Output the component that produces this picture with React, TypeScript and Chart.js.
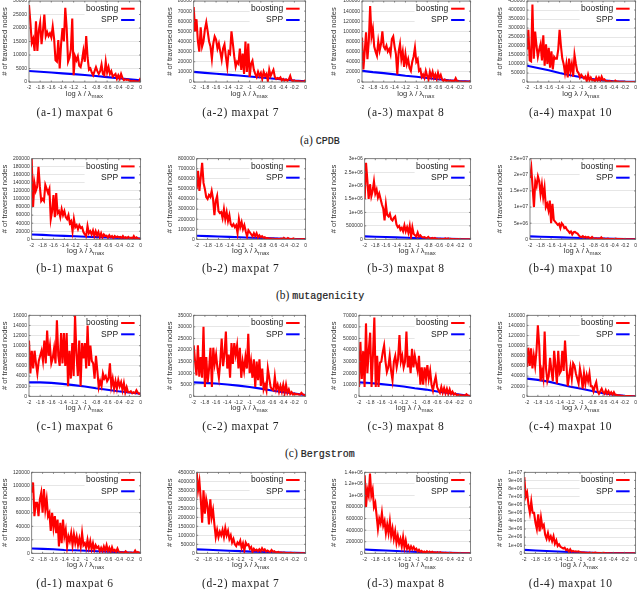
import React, { useEffect, useRef } from "react";
import { Chart, registerables } from "chart.js";

Chart.register(...registerables);

const xTickLabels = ["-2", "-1.8", "-1.6", "-1.4", "-1.2", "-1", "-0.8", "-0.6", "-0.4", "-0.2", "0"];
const sppX = [-2, -1.8, -1.6, -1.4, -1.2, -1, -0.8, -0.6, -0.4, -0.2, 0];

const boostA1 = [28500,22000,14500,16000,11500,22500,11500,19000,22000,14000,19000,25000,17000,18500,17000,18000,16500,20500,16000,8000,7500,15500,5000,14000,20000,15000,27500,20000,7500,9000,12000,23500,2500,9500,8000,9500,6000,5500,8000,11500,7500,17000,9000,4500,5000,3500,2500,4000,5500,4000,3000,4000,6500,3000,2500,7500,3500,5500,3000,4000,2000,2500,3000,1200,2500,1200,3000,1500,700,1000,800,900,500,400,300,400,300,300,200,200,1500];
const boostA2 = [74000,50000,62000,40000,30000,54000,35000,40000,52000,59000,50000,40000,35000,23000,38000,45000,42000,33000,38000,30000,22000,33000,37000,25000,15000,30000,28000,50000,38000,25000,15000,20000,18000,33000,12000,28000,8000,40000,10000,38000,5000,18000,21000,12000,8000,5000,10000,6000,9000,3000,10000,6000,8000,1000,12000,6000,9000,12000,5000,3000,4000,3000,4500,1500,3000,1500,2500,1200,2500,6000,1500,1000,1500,700,1000,700,600,500,400,400,2000];
const boostA3 = [88000,25000,60000,98000,45000,80000,150000,90000,105000,70000,60000,52000,80000,62000,75000,100000,70000,65000,72000,60000,65000,55000,85000,90000,70000,55000,15000,60000,75000,45000,60000,30000,55000,35000,45000,28000,22000,40000,50000,68000,40000,45000,22000,25000,10000,15000,8000,22000,12000,5000,20000,10000,20000,8000,15000,6000,18000,8000,14000,5000,2000,5000,2000,3000,1500,3000,2000,2500,1500,7500,1500,1500,1000,800,600,500,1000,500,300,500,2000];
const boostA4 = [180000,290000,120000,115000,430000,130000,280000,200000,140000,180000,210000,120000,260000,90000,210000,100000,190000,80000,170000,70000,140000,130000,130000,180000,290000,200000,130000,100000,50000,100000,25000,130000,60000,100000,30000,150000,100000,60000,50000,25000,40000,30000,20000,30000,5000,40000,10000,25000,10000,12000,3000,25000,8000,25000,8000,30000,12000,15000,5000,5000,2000,6000,2000,3000,1500,8000,2000,2000,1000,1000,800,700,500,400,300,300,200,200,150,100,500];

const boostB1 = [200000,80000,140000,120000,130000,180000,130000,95000,100000,95000,135000,125000,115000,125000,50000,70000,110000,55000,115000,65000,70000,55000,75000,60000,70000,55000,50000,60000,40000,45000,20000,50000,30000,35000,25000,35000,28000,30000,18000,12000,8000,33000,15000,20000,12000,22000,8000,20000,10000,18000,5000,15000,5000,12000,8000,9000,4000,10000,5000,8000,3000,8000,5000,7000,5000,6000,3000,8000,3000,5000,3000,6000,2500,4000,2000,8000,2000,5000,2000,1500,1000];
const boostB2 = [500000,680000,480000,620000,760000,560000,500000,420000,400000,440000,420000,480000,400000,240000,380000,430000,280000,260000,270000,210000,300000,200000,270000,180000,240000,150000,130000,150000,120000,140000,60000,200000,120000,170000,100000,140000,80000,30000,90000,70000,50000,30000,60000,30000,60000,20000,40000,20000,30000,15000,20000,10000,12000,8000,8000,6000,8000,5000,3000,5000,3000,2000,6000,2000,15000,5000,2000,12000,3000,2000,2000,8000,2000,1000,500,1000,500,2000,1500,1000,2000];
const boostB3 = [1500000,2850000,2200000,1500000,2050000,1600000,1800000,2150000,1700000,1850000,1550000,1700000,1500000,1300000,1150000,700000,1300000,900000,850000,950000,750000,700000,800000,850000,550000,450000,500000,350000,420000,300000,520000,300000,450000,250000,500000,100000,450000,200000,150000,100000,250000,100000,150000,90000,70000,80000,60000,50000,90000,40000,30000,50000,25000,50000,15000,20000,10000,15000,8000,10000,10000,30000,8000,30000,10000,15000,5000,10000,3000,8000,3000,5000,2000,3000,2000,1500,1000,1000,800,700,600];
const boostB4 = [19000000,22000000,16000000,10000000,18000000,16500000,19500000,18000000,14000000,17000000,13000000,16000000,10000000,11000000,9000000,12000000,5000000,11000000,6000000,5500000,5000000,4500000,4800000,3500000,5000000,4500000,3500000,3800000,3000000,2600000,2000000,2400000,1500000,2200000,2300000,2000000,1800000,1200000,800000,700000,1000000,500000,800000,500000,700000,500000,300000,700000,300000,200000,300000,150000,200000,100000,600000,100000,200000,100000,100000,200000,80000,100000,60000,80000,50000,200000,50000,60000,40000,50000,30000,40000,30000,30000,20000,20000,20000,10000,10000,10000,10000];

const boostC1 = [11000,4500,9000,5500,9000,6500,4500,7000,8000,9000,7000,11000,6500,13000,8000,10000,6500,7500,9500,6500,15000,8000,6000,12500,6500,12500,6000,12500,2000,9000,3500,10500,4000,16000,8500,4000,11000,2000,10500,7500,10500,5500,14000,6000,10000,7000,6500,3500,8000,5000,1800,3000,2000,4500,3500,4000,3000,3500,6500,2000,3500,1500,3000,1500,3200,2000,2800,1200,2600,800,1800,800,800,1000,600,800,600,1200,700,500,600];
const boostC2 = [22000,15000,9000,22000,8500,17000,8000,30000,4000,17000,6000,12000,21000,4000,21000,14000,18000,12000,8000,15000,25000,13000,18000,28000,12000,18000,8000,23000,14000,23000,18000,22000,12000,21000,8000,15000,11000,17000,12000,27000,10000,15000,8000,16000,4000,15000,7000,16000,4500,12000,3000,5000,2500,12000,8000,4000,3000,2500,8500,3000,5000,2000,4500,2000,5000,1500,5000,1500,3000,1000,1800,800,1200,800,1000,800,700,1500,800,600,500];
const boostC3 = [8000,47000,15000,39000,8000,63000,20000,40000,55000,8000,35000,68000,8000,35000,8000,29000,30000,38000,44000,30000,21000,25000,35000,22000,14000,30000,35000,25000,32000,53000,30000,35000,25000,30000,56000,25000,35000,20000,41000,25000,35000,28000,22000,35000,10000,25000,10000,25000,15000,27000,15000,22000,10000,5000,12000,17000,8000,5000,3000,8000,3000,7000,2500,6500,2000,6000,2000,4000,1500,2500,1000,1500,800,1000,700,800,500,1800,700,400,300];
const boostC4 = [58000,96000,60000,95000,55000,80000,60000,90000,140000,100000,30000,50000,35000,128000,55000,30000,40000,76000,50000,30000,90000,60000,25000,90000,45000,50000,90000,50000,110000,65000,20000,40000,58000,35000,65000,60000,45000,35000,25000,55000,40000,15000,45000,25000,42000,30000,45000,20000,20000,10000,20000,28000,10000,5000,10000,15000,8000,5000,12000,5000,10000,4000,8000,3000,8000,2500,3000,1500,2000,1000,800,600,500,400,400,300,300,200,200,100,100];

const boostD1 = [90000,105000,55000,75000,75000,55000,80000,90000,60000,95000,65000,80000,55000,60000,33000,60000,38000,55000,30000,50000,10000,45000,15000,50000,25000,35000,10000,25000,18000,30000,12000,28000,15000,25000,12000,22000,10000,30000,12000,15000,8000,20000,8000,18000,6000,15000,5000,12000,8000,10000,3000,8000,3000,10000,4000,12000,3000,8000,2000,9000,3000,5000,2000,7000,2000,1000,1500,1000,800,3000,800,700,600,1000,500,400,4000,500,2000,400,1000];
const boostD2 = [450000,350000,400000,300000,170000,350000,220000,300000,260000,160000,300000,200000,240000,160000,90000,130000,90000,120000,100000,130000,90000,140000,100000,125000,80000,100000,60000,80000,50000,40000,60000,50000,70000,30000,55000,15000,60000,45000,50000,25000,35000,8000,25000,15000,20000,12000,22000,12000,28000,15000,22000,10000,15000,10000,8000,18000,8000,12000,6000,6000,8000,4000,4000,3000,4000,2500,2000,2000,2000,3000,1500,1000,2000,1000,500,500,200,800,300,200,1000];
const boostD3 = [1350000,800000,1100000,1000000,1380000,1000000,1100000,800000,870000,650000,420000,600000,520000,700000,480000,560000,350000,500000,350000,550000,300000,430000,250000,380000,180000,300000,170000,250000,120000,280000,100000,220000,80000,130000,60000,120000,70000,110000,60000,80000,30000,60000,25000,40000,15000,30000,10000,35000,10000,30000,10000,25000,10000,15000,8000,20000,8000,18000,6000,10000,5000,9000,4000,6000,3000,8000,3000,5000,2000,3000,2000,4000,1500,2000,1000,1500,800,1000,500,500,400];
const boostD4 = [9400000,7000000,7500000,6000000,5000000,6400000,5000000,5000000,3800000,3000000,4800000,2700000,4400000,3200000,3500000,2300000,1800000,2500000,1700000,2100000,1500000,2100000,1200000,1600000,900000,1100000,800000,700000,600000,700000,400000,500000,200000,500000,200000,300000,200000,250000,200000,250000,150000,100000,100000,80000,50000,70000,40000,100000,40000,60000,30000,80000,30000,40000,20000,30000,20000,50000,20000,15000,20000,10000,15000,10000,10000,8000,8000,6000,6000,5000,5000,4000,4000,3000,3000,2000,2000,2000,1000,1000,1000];

const sppA1 = [4100,3800,3500,3200,2900,2600,2200,1800,1400,1000,600];
const sppA2 = [10000,9000,8200,7300,6400,5500,4500,3500,2500,1500,800];
const sppA3 = [22000,19500,17500,15000,12500,10500,8000,5500,3500,2000,1000];
const sppA4 = [90000,78000,65000,50000,37000,26000,17000,9000,4000,2000,1500];
const sppB1 = [12000,11000,9500,8500,7500,6500,5500,4500,3500,2800,2000];
const sppB2 = [35000,32000,28000,24000,20000,16000,13000,9000,6000,3500,1500];
const sppB3 = [110000,95000,85000,70000,55000,45000,35000,25000,15000,8000,3000];
const sppB4 = [900000,800000,700000,600000,500000,400000,300000,200000,150000,100000,50000];
const sppC1 = [2750,2750,2650,2450,2200,1950,1600,1300,1000,750,500];
const sppC2 = [6000,5800,5500,5100,4600,4000,3300,2500,1800,1200,500];
const sppC3 = [12000,11500,10500,9500,8500,7000,5800,4200,2800,1500,200];
const sppC4 = [35000,32500,29000,24000,19000,15000,10500,6000,3000,1000,200];
const sppD1 = [7000,6500,6000,5000,4500,3800,3000,2500,1800,1200,800];
const sppD2 = [22000,20000,17000,14000,12000,9500,7500,5500,3500,2500,1000];
const sppD3 = [65000,55000,48000,40000,32000,25000,18000,12000,7000,4000,1500];
const sppD4 = [420000,340000,280000,220000,160000,110000,70000,40000,30000,20000,10000];

const ticksA1 = ["30000","25000","20000","15000","10000","5000","0"];
const ticksA2 = ["80000","70000","60000","50000","40000","30000","20000","10000","0"];
const ticksA3 = ["160000","140000","120000","100000","80000","60000","40000","20000","0"];
const ticksA4 = ["450000","400000","350000","300000","250000","200000","150000","100000","50000","0"];
const ticksB1 = ["200000","180000","160000","140000","120000","100000","80000","60000","40000","20000","0"];
const ticksB2 = ["800000","700000","600000","500000","400000","300000","200000","100000","0"];
const ticksB3 = ["3e+06","2.5e+06","2e+06","1.5e+06","1e+06","500000","0"];
const ticksB4 = ["2.5e+07","2e+07","1.5e+07","1e+07","5e+06","0"];
const ticksC1 = ["16000","14000","12000","10000","8000","6000","4000","2000","0"];
const ticksC2 = ["35000","30000","25000","20000","15000","10000","5000","0"];
const ticksC3 = ["70000","60000","50000","40000","30000","20000","10000","0"];
const ticksC4 = ["160000","140000","120000","100000","80000","60000","40000","20000","0"];
const ticksD1 = ["120000","100000","80000","60000","40000","20000","0"];
const ticksD2 = ["450000","400000","350000","300000","250000","200000","150000","100000","50000","0"];
const ticksD3 = ["1.4e+06","1.2e+06","1e+06","800000","600000","400000","200000","0"];
const ticksD4 = ["1e+07","9e+06","8e+06","7e+06","6e+06","5e+06","4e+06","3e+06","2e+06","1e+06","0"];

const panels: any[] = [
  { b: boostA1, s: sppA1, t: ticksA1, box: [29, 142.7, 1, 82], yt: 4, cx: 75, cy: 112, cap: "(a-1) maxpat 6" },
  { b: boostA2, s: sppA2, t: ticksA2, box: [193.7, 307.3, 1, 82], yt: 169, cx: 240.7, cy: 112, cap: "(a-2) maxpat 7" },
  { b: boostA3, s: sppA3, t: ticksA3, box: [362, 473, 1, 82], yt: 333, cx: 406, cy: 112, cap: "(a-3) maxpat 8" },
  { b: boostA4, s: sppA4, t: ticksA4, box: [527, 638, 1, 82], yt: 499, cx: 570.7, cy: 112, cap: "(a-4) maxpat 10" },
  { b: boostB1, s: sppB1, t: ticksB1, box: [31.7, 142.7, 158.7, 239.3], yt: 4, cx: 75, cy: 268, cap: "(b-1) maxpat 6" },
  { b: boostB2, s: sppB2, t: ticksB2, box: [196.7, 307.3, 158.7, 239.3], yt: 169, cx: 240.7, cy: 268, cap: "(b-2) maxpat 7" },
  { b: boostB3, s: sppB3, t: ticksB3, box: [364.7, 473, 158.7, 239.3], yt: 333, cx: 406, cy: 268, cap: "(b-3) maxpat 8" },
  { b: boostB4, s: sppB4, t: ticksB4, box: [530, 638, 158.7, 239.3], yt: 499, cx: 570.7, cy: 268, cap: "(b-4) maxpat 10" },
  { b: boostC1, s: sppC1, t: ticksC1, box: [29, 142.7, 315.3, 396.3], yt: 4, cx: 75, cy: 425.7, cap: "(c-1) maxpat 6" },
  { b: boostC2, s: sppC2, t: ticksC2, box: [193.7, 307.3, 315.3, 396.3], yt: 169, cx: 240.7, cy: 425.7, cap: "(c-2) maxpat 7" },
  { b: boostC3, s: sppC3, t: ticksC3, box: [359, 473, 315.3, 396.3], yt: 333, cx: 406, cy: 425.7, cap: "(c-3) maxpat 8" },
  { b: boostC4, s: sppC4, t: ticksC4, box: [527, 638, 315.3, 396.3], yt: 499, cx: 570.7, cy: 425.7, cap: "(c-4) maxpat 10" },
  { b: boostD1, s: sppD1, t: ticksD1, box: [31.7, 142.7, 472.3, 553.3], yt: 4, cx: 75, cy: 582.7, cap: "(d-1) maxpat 6" },
  { b: boostD2, s: sppD2, t: ticksD2, box: [196.7, 307.3, 472.3, 553.3], yt: 169, cx: 240.7, cy: 582.7, cap: "(d-2) maxpat 7" },
  { b: boostD3, s: sppD3, t: ticksD3, box: [364.7, 473, 472.3, 553.3], yt: 333, cx: 406, cy: 582.7, cap: "(d-3) maxpat 8" },
  { b: boostD4, s: sppD4, t: ticksD4, box: [524.3, 638, 472.3, 553.3], yt: 499, cx: 570.7, cy: 582.7, cap: "(d-4) maxpat 10" },
];

const sections = [
  { label: "(a)", name: "CPDB", x: 300, y: 140 },
  { label: "(b)", name: "mutagenicity", x: 276, y: 295 },
  { label: "(c)", name: "Bergstrom", x: 285, y: 453.3 },
];

const SANS = '"Liberation Sans", sans-serif';

const decorate = {
  id: "decorate",
  beforeDatasetsDraw(chart: any) {
    const { ctx, chartArea: a } = chart;
    ctx.save();
    ctx.fillStyle = "#fff";
    ctx.fillRect(a.right - 56, a.top + 1, 55.5, 25);
    ctx.restore();
  },
  afterDraw(chart: any) {
    const { ctx, chartArea: a, scales } = chart;
    ctx.save();
    ctx.strokeStyle = "#666";
    ctx.lineWidth = 0.8;
    ctx.strokeRect(a.left, a.top, a.right - a.left, a.bottom - a.top);
    ctx.beginPath();
    scales.x.ticks.forEach((t: any) => {
      const p = scales.x.getPixelForValue(t.value);
      ctx.moveTo(p, a.top); ctx.lineTo(p, a.top + 1.5);
      ctx.moveTo(p, a.bottom); ctx.lineTo(p, a.bottom - 1.5);
    });
    scales.y.ticks.forEach((t: any) => {
      const p = scales.y.getPixelForValue(t.value);
      ctx.moveTo(a.left, p); ctx.lineTo(a.left + 1.5, p);
      ctx.moveTo(a.right, p); ctx.lineTo(a.right - 1.5, p);
    });
    ctx.stroke();
    ctx.font = `8.5px ${SANS}`;
    ctx.textBaseline = "middle";
    ctx.textAlign = "right";
    chart.data.datasets.forEach((d: any, i: number) => {
      const y = a.top + 7.7 + i * 11.3;
      ctx.fillStyle = "#222";
      ctx.fillText(d.label, a.right - 22.5, y);
      ctx.strokeStyle = d.borderColor;
      ctx.lineWidth = 2;
      ctx.beginPath();
      ctx.moveTo(a.right - 19.5, y);
      ctx.lineTo(a.right - 6, y);
      ctx.stroke();
    });
    const main = "log λ / λ";
    const sub = "max";
    ctx.textAlign = "left";
    ctx.fillStyle = "#333";
    ctx.font = `7.5px ${SANS}`;
    const w1 = ctx.measureText(main).width;
    ctx.font = `6px ${SANS}`;
    const w2 = ctx.measureText(sub).width;
    const x0 = (a.left + a.right) / 2 - (w1 + w2) / 2 - 0.5;
    ctx.font = `7.5px ${SANS}`;
    ctx.fillText(main, x0, a.bottom + 12);
    ctx.font = `6px ${SANS}`;
    ctx.fillText(sub, x0 + w1, a.bottom + 14);
    ctx.restore();
  },
};

function Panel({ p }: { p: any }) {
  const ref = useRef<HTMLCanvasElement>(null);
  const [left, right, top, bottom] = p.box;
  const cl = Math.floor(p.yt) - 4;
  const ct = Math.floor(top) - 6;
  const cw = Math.ceil(right) + 2 - cl;
  const ch = Math.ceil(bottom) + 24 - ct;
  useEffect(() => {
    const xt = xTickLabels.map(Number);
    const yt = p.t.map(Number);
    const chart = new Chart(ref.current as HTMLCanvasElement, {
      type: "line",
      data: {
        datasets: [
          {
            label: "boosting",
            data: p.b.map((v: number, i: number) => ({ x: -2 + (2 * i) / (p.b.length - 1), y: v })),
            borderColor: "#ff0000",
            borderWidth: 2.1,
            pointRadius: 0,
            tension: 0,
          },
          {
            label: "SPP",
            data: p.s.map((v: number, i: number) => ({ x: sppX[i], y: v })),
            borderColor: "#0000ff",
            borderWidth: 2.1,
            pointRadius: 0,
            tension: 0,
          },
        ],
      } as any,
      plugins: [decorate],
      options: {
        animation: false,
        responsive: false,
        devicePixelRatio: 1,
        layout: { padding: { top: top - ct, right: cl + cw - right, left: 0, bottom: 0 } },
        plugins: { legend: { display: false }, tooltip: { enabled: false } },
        scales: {
          x: {
            type: "linear",
            min: -2,
            max: 0,
            afterFit: (s: any) => { s.height = ct + ch - bottom; },
            afterBuildTicks: (s: any) => { s.ticks = xt.map((value: number) => ({ value })); },
            grid: { display: false, drawTicks: false },
            border: { display: false },
            ticks: {
              autoSkip: false,
              maxRotation: 0,
              padding: 3,
              color: "#333",
              font: { family: SANS, size: 5 },
              callback: (v: any) => xTickLabels[xt.indexOf(Number(v))],
            },
          },
          y: {
            min: 0,
            max: yt[0],
            afterFit: (s: any) => { s.width = left - cl; },
            afterBuildTicks: (s: any) => { s.ticks = yt.map((value: number) => ({ value })); },
            grid: { color: "#e6e6e6", lineWidth: 1, drawTicks: false },
            border: { display: false },
            title: {
              display: true,
              text: "# of traversed nodes",
              color: "#333",
              padding: 0,
              font: { family: SANS, size: 7.5 },
            },
            ticks: {
              autoSkip: false,
              padding: 2,
              color: "#333",
              font: { family: SANS, size: 5 },
              callback: (v: any) => p.t[yt.indexOf(Number(v))],
            },
          },
        },
      } as any,
    });
    return () => chart.destroy();
  }, []);
  return (
    <canvas
      ref={ref}
      width={cw}
      height={ch}
      style={{ position: "absolute", left: cl, top: ct, width: cw, height: ch }}
    />
  );
}

export default function App() {
  return (
    <div style={{ position: "fixed", left: 0, top: 0, width: 640, height: 589, overflow: "hidden", background: "#fff", filter: "blur(0.35px)" }}>
      {panels.map((p, i) => (
        <Panel key={i} p={p} />
      ))}
      {panels.map((p, i) => (
        <div
          key={i}
          style={{
            position: "absolute",
            left: p.cx - 60,
            width: 120,
            top: p.cy - 8,
            height: 16,
            textAlign: "center",
            font: '11.5px/16px "Liberation Serif", serif',
            letterSpacing: "0.65px",
            color: "#222",
            whiteSpace: "nowrap",
          }}
        >
          {p.cap}
        </div>
      ))}
      {sections.map((s, i) => (
        <div
          key={i}
          style={{
            position: "absolute",
            left: s.x,
            top: s.y - 8,
            font: '11.5px/16px "Liberation Serif", serif',
            color: "#222",
            whiteSpace: "nowrap",
          }}
        >
          {s.label}{" "}
          <span style={{ font: '10px/16px "Liberation Mono", monospace', WebkitTextStroke: "0.2px #222" }}>{s.name}</span>
        </div>
      ))}
    </div>
  );
}
